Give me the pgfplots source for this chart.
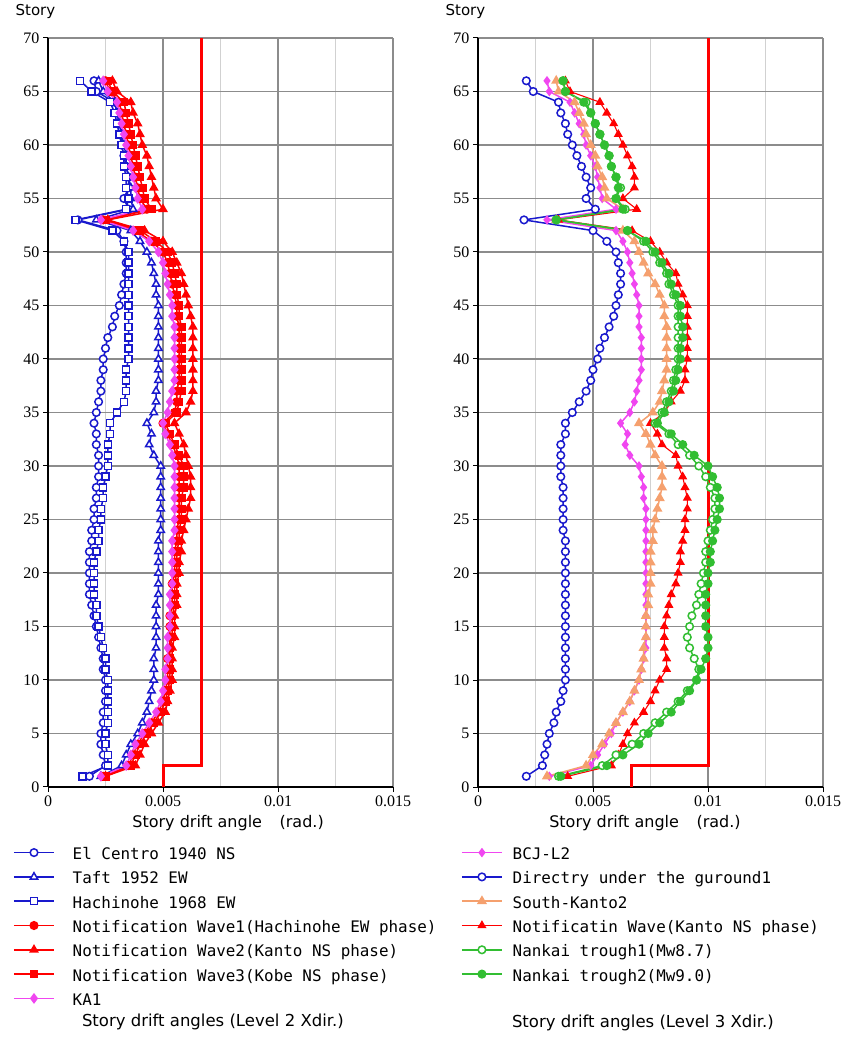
\documentclass[border=0pt]{standalone}
\usepackage{pgfplots}
\usepackage{pgfplotstable}
\pgfplotsset{compat=1.18}
\usepackage{fontspec}
\setmainfont{Liberation Serif}
\newfontfamily\legfont{DejaVu Sans Mono}
\newfontfamily\labfont{DejaVu Sans}
\definecolor{cblue}{RGB}{25,25,205}
\definecolor{cred}{RGB}{255,0,0}
\definecolor{cmag}{RGB}{240,70,240}
\definecolor{corg}{RGB}{245,160,110}
\definecolor{cgrn}{RGB}{50,190,50}

\pgfplotstableread{
s EC TF HC W1 W2 W3 KA
66 0.0020 0.0022 0.0014 0.0025 0.0028 0.0026 0.0024
65 0.0021 0.0024 0.0019 0.0027 0.0030 0.0028 0.0026
64 0.0029 0.0029 0.0027 0.0031 0.0036 0.0033 0.0030
63 0.0030 0.0030 0.0029 0.0032 0.0037 0.0034 0.0031
62 0.0031 0.0031 0.0030 0.0033 0.0039 0.0035 0.0032
61 0.0032 0.0032 0.0031 0.0034 0.0040 0.0036 0.0033
60 0.0032 0.0033 0.0032 0.0035 0.0041 0.0037 0.0034
59 0.0033 0.0034 0.0033 0.0036 0.0043 0.0038 0.0035
58 0.0034 0.0034 0.0033 0.0037 0.0044 0.0039 0.0036
57 0.0035 0.0035 0.0034 0.0038 0.0045 0.0040 0.0037
56 0.0035 0.0036 0.0034 0.0039 0.0046 0.0041 0.0038
55 0.0033 0.0036 0.0035 0.0040 0.0047 0.0042 0.0039
54 0.0035 0.0037 0.0034 0.0043 0.0050 0.0045 0.0041
53 0.0013 0.0021 0.0012 0.0024 0.0026 0.0025 0.0023
52 0.0030 0.0036 0.0028 0.0038 0.0042 0.0040 0.0037
51 0.0033 0.0040 0.0033 0.0045 0.0050 0.0047 0.0044
50 0.0034 0.0043 0.0035 0.0050 0.0054 0.0052 0.0048
49 0.0034 0.0045 0.0035 0.0052 0.0056 0.0054 0.0050
48 0.0034 0.0046 0.0035 0.0053 0.0058 0.0055 0.0051
47 0.0033 0.0047 0.0035 0.0054 0.0059 0.0056 0.0052
46 0.0032 0.0047 0.0035 0.0055 0.0060 0.0056 0.0053
45 0.0031 0.0048 0.0035 0.0056 0.0061 0.0057 0.0054
44 0.0029 0.0048 0.0035 0.0056 0.0062 0.0057 0.0054
43 0.0028 0.0048 0.0035 0.0057 0.0063 0.0058 0.0055
42 0.0026 0.0048 0.0035 0.0057 0.0063 0.0058 0.0055
41 0.0025 0.0048 0.0035 0.0057 0.0063 0.0058 0.0055
40 0.0024 0.0048 0.0035 0.0057 0.0063 0.0058 0.0055
39 0.0024 0.0048 0.0034 0.0057 0.0063 0.0058 0.0055
38 0.0023 0.0048 0.0034 0.0057 0.0063 0.0058 0.0055
37 0.0023 0.0047 0.0034 0.0056 0.0063 0.0058 0.0054
36 0.0022 0.0047 0.0033 0.0056 0.0062 0.0057 0.0053
35 0.0021 0.0046 0.0030 0.0055 0.0060 0.0056 0.0052
34 0.0020 0.0043 0.0027 0.0050 0.0055 0.0051 0.0050
33 0.0021 0.0045 0.0027 0.0052 0.0057 0.0053 0.0051
32 0.0021 0.0044 0.0026 0.0054 0.0059 0.0055 0.0053
31 0.0022 0.0046 0.0026 0.0056 0.0060 0.0057 0.0054
30 0.0022 0.0049 0.0026 0.0057 0.0061 0.0059 0.0055
29 0.0022 0.0049 0.0025 0.0057 0.0062 0.0059 0.0055
28 0.0021 0.0049 0.0024 0.0057 0.0062 0.0059 0.0055
27 0.0021 0.0049 0.0024 0.0057 0.0062 0.0058 0.0055
26 0.0020 0.0049 0.0023 0.0057 0.0061 0.0058 0.0055
25 0.0020 0.0049 0.0023 0.0057 0.0060 0.0058 0.0055
24 0.0019 0.0049 0.0022 0.0056 0.0059 0.0057 0.0055
23 0.0019 0.0048 0.0022 0.0056 0.0058 0.0057 0.0054
22 0.0018 0.0048 0.0021 0.0055 0.0058 0.0056 0.0054
21 0.0018 0.0048 0.0020 0.0055 0.0057 0.0056 0.0054
20 0.0018 0.0048 0.0020 0.0055 0.0057 0.0056 0.0054
19 0.0018 0.0048 0.0020 0.0054 0.0056 0.0055 0.0054
18 0.0018 0.0048 0.0020 0.0054 0.0056 0.0055 0.0053
17 0.0019 0.0047 0.0021 0.0054 0.0056 0.0055 0.0053
16 0.0020 0.0047 0.0021 0.0053 0.0055 0.0054 0.0053
15 0.0021 0.0047 0.0022 0.0053 0.0055 0.0054 0.0053
14 0.0022 0.0047 0.0023 0.0053 0.0055 0.0054 0.0052
13 0.0023 0.0047 0.0024 0.0053 0.0054 0.0053 0.0052
12 0.0024 0.0046 0.0025 0.0052 0.0054 0.0053 0.0052
11 0.0024 0.0046 0.0025 0.0052 0.0054 0.0053 0.0051
10 0.0025 0.0046 0.0026 0.0052 0.0054 0.0053 0.0051
9 0.0025 0.0045 0.0026 0.0051 0.0053 0.0052 0.0050
8 0.0025 0.0044 0.0026 0.0050 0.0052 0.0051 0.0049
7 0.0024 0.0043 0.0026 0.0048 0.0051 0.0049 0.0047
6 0.0024 0.0041 0.0026 0.0045 0.0048 0.0046 0.0044
5 0.0023 0.0039 0.0025 0.0042 0.0045 0.0043 0.0041
4 0.0023 0.0036 0.0025 0.0039 0.0042 0.0040 0.0038
3 0.0024 0.0034 0.0026 0.0037 0.0040 0.0038 0.0036
2 0.0025 0.0032 0.0026 0.0035 0.0038 0.0036 0.0034
1 0.0018 0.0023 0.0015 0.0024 0.0025 0.0025 0.0023
}\lefttab

\pgfplotstableread{
s DU BC SK NW N1 N2
66 0.0021 0.0030 0.0034 0.0038 0.0037 0.0037
65 0.0024 0.0031 0.0035 0.0040 0.0038 0.0038
64 0.0035 0.0040 0.0042 0.0053 0.0047 0.0046
63 0.0036 0.0042 0.0044 0.0056 0.0049 0.0049
62 0.0038 0.0044 0.0046 0.0059 0.0051 0.0051
61 0.0039 0.0046 0.0047 0.0061 0.0053 0.0053
60 0.0041 0.0047 0.0049 0.0063 0.0055 0.0055
59 0.0043 0.0049 0.0051 0.0065 0.0057 0.0057
58 0.0045 0.0051 0.0052 0.0067 0.0058 0.0058
57 0.0047 0.0052 0.0054 0.0068 0.0060 0.0060
56 0.0049 0.0053 0.0055 0.0068 0.0062 0.0061
55 0.0047 0.0054 0.0056 0.0063 0.0060 0.0060
54 0.0051 0.0060 0.0063 0.0069 0.0064 0.0063
53 0.0020 0.0030 0.0034 0.0035 0.0034 0.0034
52 0.0050 0.0060 0.0063 0.0067 0.0065 0.0065
51 0.0056 0.0063 0.0068 0.0075 0.0072 0.0073
50 0.0060 0.0065 0.0070 0.0079 0.0076 0.0077
49 0.0061 0.0066 0.0072 0.0082 0.0079 0.0080
48 0.0062 0.0067 0.0074 0.0086 0.0082 0.0083
47 0.0062 0.0068 0.0077 0.0087 0.0083 0.0084
46 0.0061 0.0069 0.0079 0.0089 0.0085 0.0086
45 0.0060 0.0070 0.0081 0.0091 0.0087 0.0088
44 0.0059 0.0070 0.0081 0.0091 0.0087 0.0088
43 0.0057 0.0070 0.0082 0.0091 0.0087 0.0089
42 0.0055 0.0071 0.0082 0.0091 0.0087 0.0089
41 0.0053 0.0071 0.0082 0.0091 0.0087 0.0088
40 0.0052 0.0071 0.0082 0.0091 0.0087 0.0088
39 0.0050 0.0071 0.0082 0.0090 0.0086 0.0087
38 0.0049 0.0070 0.0081 0.0090 0.0085 0.0086
37 0.0047 0.0069 0.0080 0.0088 0.0084 0.0085
36 0.0044 0.0068 0.0079 0.0084 0.0082 0.0083
35 0.0041 0.0066 0.0076 0.0081 0.0080 0.0081
34 0.0038 0.0062 0.0070 0.0075 0.0077 0.0078
33 0.0038 0.0065 0.0073 0.0078 0.0083 0.0084
32 0.0036 0.0064 0.0075 0.0080 0.0087 0.0089
31 0.0036 0.0066 0.0077 0.0086 0.0092 0.0094
30 0.0036 0.0070 0.0080 0.0087 0.0096 0.0100
29 0.0036 0.0071 0.0080 0.0089 0.0099 0.0102
28 0.0037 0.0072 0.0080 0.0090 0.0101 0.0104
27 0.0037 0.0072 0.0079 0.0091 0.0103 0.0105
26 0.0037 0.0073 0.0078 0.0091 0.0103 0.0105
25 0.0037 0.0073 0.0077 0.0090 0.0102 0.0104
24 0.0037 0.0073 0.0076 0.0090 0.0101 0.0103
23 0.0038 0.0073 0.0076 0.0089 0.0100 0.0102
22 0.0038 0.0073 0.0075 0.0088 0.0099 0.0101
21 0.0038 0.0073 0.0075 0.0088 0.0099 0.0101
20 0.0038 0.0073 0.0075 0.0087 0.0098 0.0100
19 0.0038 0.0073 0.0075 0.0086 0.0097 0.0100
18 0.0038 0.0073 0.0074 0.0084 0.0096 0.0099
17 0.0038 0.0073 0.0074 0.0083 0.0095 0.0099
16 0.0038 0.0073 0.0073 0.0082 0.0093 0.0099
15 0.0038 0.0073 0.0073 0.0081 0.0092 0.0099
14 0.0038 0.0073 0.0073 0.0081 0.0091 0.0100
13 0.0038 0.0073 0.0072 0.0081 0.0092 0.0100
12 0.0038 0.0072 0.0072 0.0082 0.0094 0.0099
11 0.0038 0.0071 0.0071 0.0082 0.0096 0.0097
10 0.0038 0.0070 0.0070 0.0079 0.0095 0.0095
9 0.0037 0.0068 0.0068 0.0077 0.0091 0.0092
8 0.0036 0.0066 0.0066 0.0075 0.0087 0.0088
7 0.0034 0.0063 0.0063 0.0072 0.0082 0.0084
6 0.0033 0.0060 0.0060 0.0068 0.0077 0.0079
5 0.0031 0.0058 0.0057 0.0065 0.0072 0.0074
4 0.0030 0.0055 0.0054 0.0063 0.0067 0.0070
3 0.0029 0.0052 0.0050 0.0061 0.0060 0.0063
2 0.0028 0.0049 0.0047 0.0058 0.0054 0.0056
1 0.0021 0.0031 0.0030 0.0039 0.0035 0.0036
}\righttab

\pgfplotsset{
  myaxis/.style={
    scale only axis, width=345pt, height=749pt,
    xmin=0, xmax=0.015, ymin=0, ymax=70,
    axis lines=left, axis line style={-, line width=1.5pt, black},
    xtick={0,0.005,0.01,0.015}, xticklabels={0,0.005,0.01,0.015},
    minor xtick={0.0025,0.0075,0.0125},
    ytick={0,5,...,70},
    grid=both,
    major grid style={line width=1.3pt, black!45},
    minor grid style={line width=0.8pt, black!18},
    tick align=outside, major tick length=5pt, minor tick length=0pt,
    tick style={line width=1pt, black},
    ticklabel style={font=\fontsize{16}{18}\selectfont},
    /pgf/number format/assume math mode=true,
    scaled x ticks=false,
    clip=false,
    ylabel={Story},
    every axis y label/.style={at={(rel axis cs:-0.104,1.035)}, anchor=west, font=\labfont\fontsize{15}{18}\selectfont},
    legend cell align=left,
    legend image code/.code={\draw[mark repeat=2,mark phase=2,##1] plot coordinates {(0pt,0pt) (20pt,0pt) (40pt,0pt)};},
    legend style={draw=none, fill=none, anchor=north west, row sep=3.4pt,
      font=\legfont\fontsize{15.9}{22}\selectfont},
  },
  ser/.style={line width=1.5pt, mark size=3.8pt, mark options={solid, line width=1.4pt}},
  limit/.style={cred, line width=3pt, no marks, forget plot},
}
\newcommand{\lt}[1]{\strut #1}

\begin{document}
\begin{tikzpicture}
\useasboundingbox (0,0) rectangle (844pt,1039pt);
% ---------------- left ----------------
\begin{axis}[myaxis, at={(48pt,252pt)}, anchor=south west,
  xlabel={Story drift angle\hspace{1.1em}(rad.)},
  every axis x label/.style={at={(rel axis cs:0.522,-0.048)}, anchor=center, font=\labfont\fontsize{16}{18}\selectfont},
  legend style={at={(rel axis cs:-0.110,-0.0707)}, /tikz/every odd column/.append style={column sep=16pt}}]
\addplot[limit] coordinates {(0.005,0) (0.005,2) (0.00667,2) (0.00667,70)};
\addplot[ser, cblue, mark=*, mark options={fill=white}] table[x=EC,y=s] {\lefttab};
\addlegendentry{\lt{El Centro 1940 NS}}
\addplot[ser, cblue, mark=triangle*, mark size=4.2pt, mark options={fill=white}] table[x=TF,y=s] {\lefttab};
\addlegendentry{\lt{Taft 1952 EW}}
\addplot[ser, cblue, mark=square*, mark size=3.5pt, mark options={fill=white}] table[x=HC,y=s] {\lefttab};
\addlegendentry{\lt{Hachinohe 1968 EW}}
\addplot[ser, cred, mark=*, mark options={fill=cred}] table[x=W1,y=s] {\lefttab};
\addlegendentry{\lt{Notification Wave1(Hachinohe EW phase)}}
\addplot[ser, cred, mark=triangle*, mark size=4.2pt, mark options={fill=cred}] table[x=W2,y=s] {\lefttab};
\addlegendentry{\lt{Notification Wave2(Kanto NS phase)}}
\addplot[ser, cred, mark=square*, mark size=3.5pt, mark options={fill=cred}] table[x=W3,y=s] {\lefttab};
\addlegendentry{\lt{Notification Wave3(Kobe NS phase)}}
\addplot[ser, cmag, mark=diamond*, mark size=4.2pt, mark options={fill=cmag}] table[x=KA,y=s] {\lefttab};
\addlegendentry{\lt{KA1}}
\node[font=\labfont\fontsize{16.5}{18}\selectfont] at (rel axis cs:0.478,-0.3138) {Story drift angles (Level 2 Xdir.)};
\end{axis}
% ---------------- right ----------------
\begin{axis}[myaxis, at={(478pt,252pt)}, anchor=south west,
  xlabel={Story drift angle\hspace{1.1em}(rad.)},
  every axis x label/.style={at={(rel axis cs:0.484,-0.048)}, anchor=center, font=\labfont\fontsize{16}{18}\selectfont},
  legend style={at={(rel axis cs:-0.058,-0.0707)}, /tikz/every odd column/.append style={column sep=8pt}}]
\addplot[limit] coordinates {(0.00667,0) (0.00667,2) (0.01,2) (0.01,70)};
\addplot[ser, cmag, mark=diamond*, mark size=3.6pt, mark options={fill=cmag}] table[x=BC,y=s] {\righttab};
\addlegendentry{\lt{BCJ-L2}}
\addplot[ser, cblue, mark=*, mark options={fill=white}] table[x=DU,y=s] {\righttab};
\addlegendentry{\lt{Directry under the guround1}}
\addplot[ser, corg, mark=triangle*, mark size=4.4pt, mark options={fill=corg}] table[x=SK,y=s] {\righttab};
\addlegendentry{\lt{South-Kanto2}}
\addplot[ser, cred, line width=1.1pt, mark=triangle*, mark size=4.2pt, mark options={fill=cred}] table[x=NW,y=s] {\righttab};
\addlegendentry{\lt{Notificatin Wave(Kanto NS phase)}}
\addplot[ser, cgrn, mark=*, mark options={fill=white}] table[x=N1,y=s] {\righttab};
\addlegendentry{\lt{Nankai trough1(Mw8.7)}}
\addplot[ser, cgrn, mark=*, mark options={fill=cgrn}] table[x=N2,y=s] {\righttab};
\addlegendentry{\lt{Nankai trough2(Mw9.0)}}
\node[font=\labfont\fontsize{16.5}{18}\selectfont] at (rel axis cs:0.478,-0.315) {Story drift angles (Level 3 Xdir.)};
\end{axis}
\end{tikzpicture}
\end{document}
